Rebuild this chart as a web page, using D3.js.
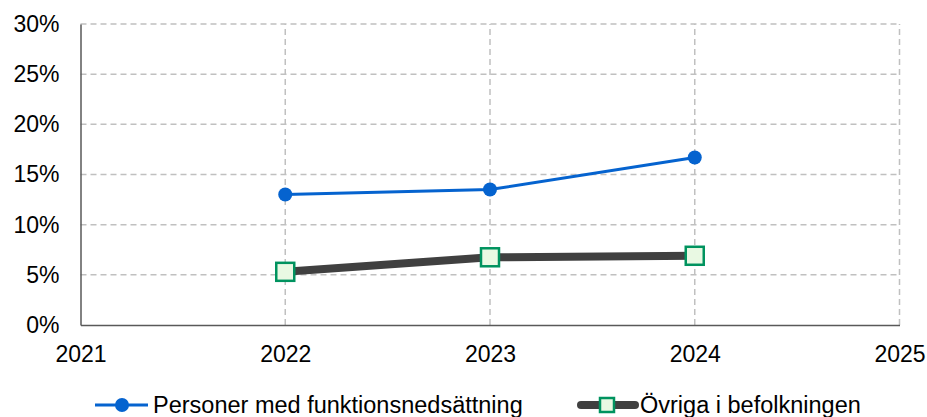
<!DOCTYPE html>
<html><head><meta charset="utf-8">
<script src="https://cdn.jsdelivr.net/npm/d3@7"></script>
<style>body{margin:0;background:#fff}svg{display:block}</style>
</head><body>
<svg id="c" width="927" height="417"></svg>
<script>
const years = [2022, 2023, 2024];
const seriesNames = ["Personer med funktionsnedsättning", "Övriga i befolkningen"];
const personer = [13.0, 13.5, 16.7];
const ovriga = [5.3, 6.75, 6.9];
const xTicks = [2021, 2022, 2023, 2024, 2025];
const yTicks = [0, 5, 10, 15, 20, 25, 30];

const svg = d3.select("#c");
const font = "Liberation Sans, Arial, sans-serif";
const x = d3.scaleLinear().domain([2021, 2025]).range([80.5, 899.5]);
const y = d3.scaleLinear().domain([0, 30]).range([325, 24]);

// grid
const g = svg.append("g");
g.selectAll("line.h").data(yTicks.filter(d => d > 0)).join("line")
  .attr("x1", x(2021)).attr("x2", x(2025))
  .attr("y1", d => y(d)).attr("y2", d => y(d))
  .attr("stroke", "#c0c0c0").attr("stroke-width", 1.5).attr("stroke-dasharray", "6,4");
g.selectAll("line.v").data(xTicks.filter(d => d > 2021)).join("line")
  .attr("x1", d => x(d)).attr("x2", d => x(d))
  .attr("y1", y(0)).attr("y2", y(30))
  .attr("stroke", "#c0c0c0").attr("stroke-width", 1.5).attr("stroke-dasharray", "6,4");

// axes
const yAxis = d3.axisLeft(y).tickValues(yTicks).tickSize(0).tickPadding(21).tickFormat(d => d + "%");
const ya = svg.append("g").attr("transform", `translate(${x(2021)},0)`).call(yAxis);
ya.select(".domain").attr("stroke", "#595959").attr("stroke-width", 1.5);
ya.selectAll("text").attr("font-family", font).attr("font-size", 23).attr("fill", "#000");

const xAxis = d3.axisBottom(x).tickValues(xTicks).tickSize(0).tickPadding(21).tickFormat(d3.format("d"));
const xa = svg.append("g").attr("transform", `translate(0,${y(0)})`).call(xAxis);
xa.select(".domain").attr("stroke", "#595959").attr("stroke-width", 1.5);
xa.selectAll("text").attr("font-family", font).attr("font-size", 23).attr("fill", "#000");

// lines
const line = d3.line().x((d, i) => x(years[i])).y(d => y(d));
svg.append("path").datum(ovriga).attr("d", line).attr("fill", "none")
  .attr("stroke", "#404040").attr("stroke-width", 8);
svg.selectAll("rect.o").data(ovriga).join("rect")
  .attr("x", (d, i) => x(years[i]) - 9).attr("y", d => y(d) - 9)
  .attr("width", 18).attr("height", 18)
  .attr("fill", "#e9f9e3").attr("stroke", "#00935f").attr("stroke-width", 2.5);

svg.append("path").datum(personer).attr("d", line).attr("fill", "none")
  .attr("stroke", "#0563cf").attr("stroke-width", 3);
svg.selectAll("circle.p").data(personer).join("circle")
  .attr("cx", (d, i) => x(years[i])).attr("cy", d => y(d)).attr("r", 7)
  .attr("fill", "#0563cf");

// legend
const ly = 405;
const l1 = svg.append("g");
l1.append("line").attr("x1", 95).attr("x2", 148).attr("y1", ly).attr("y2", ly)
  .attr("stroke", "#0563cf").attr("stroke-width", 3);
l1.append("circle").attr("cx", 122).attr("cy", ly).attr("r", 7).attr("fill", "#0563cf");
l1.append("text").attr("x", 153).attr("y", ly + 8).attr("font-family", font).attr("font-size", 23.5)
  .text(seriesNames[0]);

const l2 = svg.append("g");
l2.append("line").attr("x1", 581).attr("x2", 635).attr("y1", ly).attr("y2", ly)
  .attr("stroke", "#404040").attr("stroke-width", 8).attr("stroke-linecap", "round");
l2.append("rect").attr("x", 600).attr("y", ly - 7).attr("width", 14).attr("height", 14)
  .attr("fill", "#e9f9e3").attr("stroke", "#00935f").attr("stroke-width", 2.5);
l2.append("text").attr("x", 640).attr("y", ly + 8).attr("font-family", font).attr("font-size", 23.5)
  .text(seriesNames[1]);
</script>
</body></html>
